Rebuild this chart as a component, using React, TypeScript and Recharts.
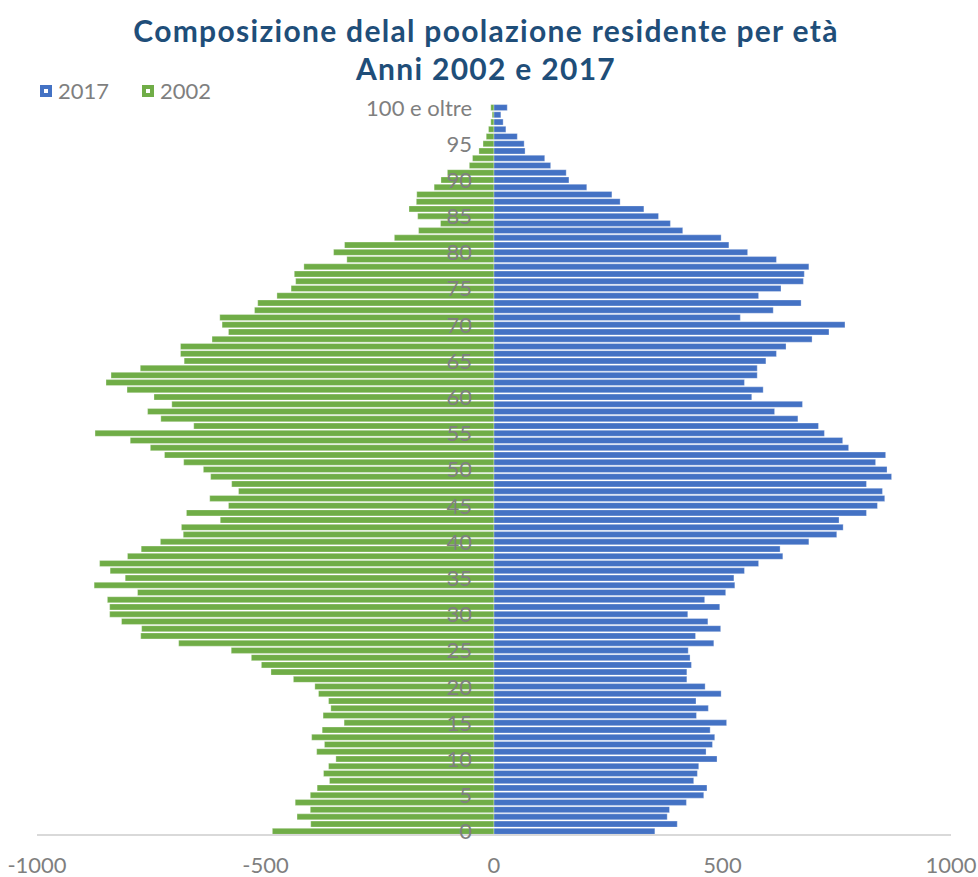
import { BarChart, Bar, XAxis, YAxis } from "recharts";

// age classes, bottom (0) to top (100 e oltre)
const ages = [
  "0", "1", "2", "3", "4", "5", "6", "7", "8", "9",
  "10", "11", "12", "13", "14", "15", "16", "17", "18", "19",
  "20", "21", "22", "23", "24", "25", "26", "27", "28", "29",
  "30", "31", "32", "33", "34", "35", "36", "37", "38", "39",
  "40", "41", "42", "43", "44", "45", "46", "47", "48", "49",
  "50", "51", "52", "53", "54", "55", "56", "57", "58", "59",
  "60", "61", "62", "63", "64", "65", "66", "67", "68", "69",
  "70", "71", "72", "73", "74", "75", "76", "77", "78", "79",
  "80", "81", "82", "83", "84", "85", "86", "87", "88", "89",
  "90", "91", "92", "93", "94", "95", "96", "97", "98", "99",
  "100 e oltre",
];

const pop2017 = [
  352, 401, 379, 384, 421, 459, 466, 437, 445, 448,
  488, 464, 478, 483, 473, 509, 443, 469, 442, 497,
  462, 422, 422, 432, 429, 425, 481, 441, 496, 468,
  424, 494, 461, 507, 527, 525, 548, 579, 632, 626,
  689, 750, 764, 755, 815, 839, 855, 850, 815, 870,
  860, 835, 857, 776, 763, 723, 710, 665, 614, 675,
  564, 589, 548, 576, 576, 595, 618, 639, 696, 733,
  768, 539, 611, 672, 579, 628, 677, 679, 689, 618,
  555, 514, 497, 413, 386, 360, 328, 276, 258, 203,
  164, 158, 124, 111, 68, 66, 51, 26, 20, 15,
  29,
];

// 2002 drawn on the left side (negative)
const pop2002 = [
  -485, -401, -431, -402, -435, -402, -387, -360, -373, -362,
  -346, -388, -371, -399, -376, -328, -374, -357, -362, -384,
  -392, -439, -488, -509, -531, -575, -690, -773, -771, -815,
  -841, -841, -846, -780, -875, -807, -840, -863, -802, -772,
  -730, -680, -684, -599, -673, -581, -622, -559, -574, -620,
  -636, -679, -721, -752, -796, -873, -657, -729, -758, -705,
  -744, -803, -849, -838, -774, -678, -686, -686, -617, -581,
  -595, -600, -524, -517, -475, -444, -434, -437, -416, -322,
  -351, -327, -218, -165, -117, -167, -186, -170, -169, -131,
  -116, -102, -54, -47, -33, -24, -17, -12, -7, -4,
  -7,
];

const ageTicks = ["0", "5", "10", "15", "20", "25", "30", "35", "40", "45", "50",
  "55", "60", "65", "70", "75", "80", "85", "90", "95", "100 e oltre"];
const xTicks = [-1000, -500, 0, 500, 1000];

const data = ages.map((a, i) => ({ age: a, y2017: pop2017[i], y2002: pop2002[i] }));

const W = 978;
const H = 877;
const M = { top: 104, right: 27, bottom: 10, left: 2 };
const Y_W = 35;
const ZERO_X = M.left + Y_W + (W - M.left - Y_W - M.right) / 2;
const FONT = "Lato, 'Open Sans', sans-serif";
const GREY = "#7f7f7f";

function AgeTick(props: any) {
  const { y, payload } = props;
  if (!ageTicks.includes(String(payload.value))) return <g />;
  return (
    <text x={ZERO_X - 22} y={y} dy="0.36em" textAnchor="end" fill={GREY}
      fontSize={22} fontFamily={FONT}>
      {payload.value}
    </text>
  );
}

function LegendIcon({ color }: { color: string }) {
  return (
    <span style={{ display: "inline-block", width: 12, height: 12, background: color, position: "relative", marginRight: 6 }}>
      <span style={{ position: "absolute", left: 4, top: 4, width: 4, height: 4, background: "#fff" }} />
    </span>
  );
}

export default function App() {
  return (
    <div style={{ position: "absolute", left: 0, top: 0, width: W, height: H, background: "#fff", fontFamily: FONT }}>
      <div style={{ position: "absolute", left: 0, top: 11, width: 972, textAlign: "center", color: "#1f4e79",
        fontWeight: 700, fontSize: 30, lineHeight: "38px", letterSpacing: 1.3 }}>
        Composizione delal poolazione residente per età<br />Anni 2002 e 2017
      </div>
      <div style={{ position: "absolute", left: 40, top: 77, fontSize: 22, color: GREY, display: "flex", alignItems: "center" }}>
        <LegendIcon color="#4472c4" />
        <span style={{ marginRight: 33 }}>2017</span>
        <LegendIcon color="#70ad47" />
        <span>2002</span>
      </div>
      <BarChart width={W} height={H} data={data} layout="vertical" margin={M}
        stackOffset="sign" barCategoryGap="8%">
        <XAxis type="number" domain={[-1000, 1000]} ticks={xTicks} allowDataOverflow
          axisLine={{ stroke: "#d9d9d9", strokeWidth: 2 }} tickLine={false} tickMargin={16}
          height={32} tick={{ fill: GREY, fontSize: 22, fontFamily: FONT }} />
        <YAxis type="category" dataKey="age" reversed interval={0} width={Y_W}
          axisLine={false} tickLine={false} tick={(p: any) => <AgeTick {...p} />} />
        <Bar dataKey="y2002" stackId="p" fill="#70ad47" stroke="#ffffff" strokeOpacity={0.5} strokeWidth={0.6} isAnimationActive={false} />
        <Bar dataKey="y2017" stackId="p" fill="#4472c4" stroke="#ffffff" strokeOpacity={0.5} strokeWidth={0.6} isAnimationActive={false} />
      </BarChart>
    </div>
  );
}
